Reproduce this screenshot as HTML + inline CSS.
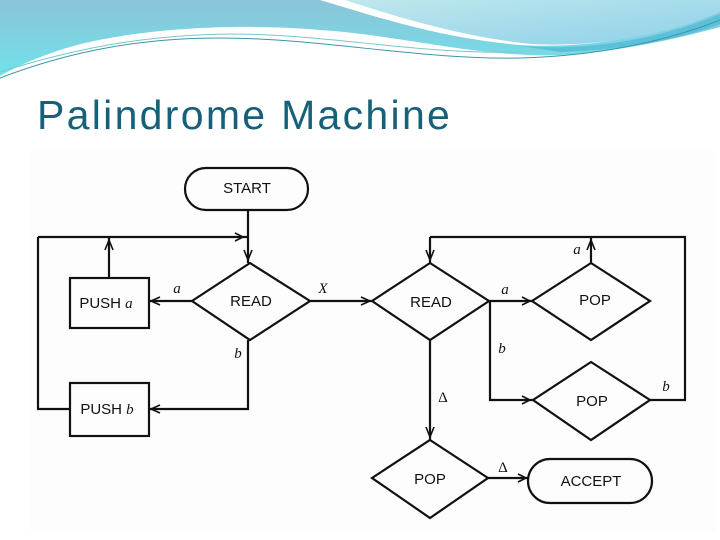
<!DOCTYPE html>
<html><head><meta charset="utf-8"><style>
html,body{margin:0;padding:0;background:#fff;}
body{width:720px;height:540px;overflow:hidden;position:relative;font-family:"Liberation Sans",sans-serif;}
.title{position:absolute;left:37px;top:92px;font-size:41px;color:#17607a;letter-spacing:2.3px;}
</style></head><body>
<svg width="720" height="540" style="position:absolute;left:0;top:0">
<defs>
<linearGradient id="g1" x1="0" y1="0" x2="0" y2="1"><stop offset="0" stop-color="#8cc4d8"/><stop offset="1" stop-color="#6fe2ea"/></linearGradient>
<linearGradient id="g2" x1="0" y1="0" x2="1" y2="1"><stop offset="0" stop-color="#bfe8ec"/><stop offset="1" stop-color="#8fd0ea"/></linearGradient>
</defs>
<path d="M0 0 H720 V27 C680 38 620 52 560 55 C480 58 400 35 320 30 C230 22 120 30 60 50 C30 60 10 70 0 76 Z" fill="url(#g1)"/>
<path d="M320 0 C380 18 440 38 520 45 C600 50 680 30 720 8 V0 Z" fill="#fff"/>
<path d="M345 0 C400 18 460 36 530 44 C610 48 680 30 720 12 V0 Z" fill="url(#g2)"/>
<path d="M520 46 C600 52 670 35 720 14 V24 C680 40 620 50 560 52 Z" fill="#5cc0d8"/>
<path d="M0 78 C60 55 130 38 220 38 C320 38 420 60 520 58 C600 56 670 40 720 20" fill="none" stroke="#3a98a8" stroke-width="1"/>
<path d="M0 72 C70 50 140 35 230 34 C330 34 420 55 520 52" fill="none" stroke="#7cc6cc" stroke-width="1"/>
<rect x="30" y="150" width="686" height="382" fill="#fdfdfd"/>
<g fill="none" stroke="#111" stroke-width="2.2">
<rect x="185" y="168" width="123" height="42" rx="21"/>
<rect x="528" y="459" width="124" height="44" rx="22"/>
<rect x="70" y="278" width="79" height="50"/>
<rect x="70" y="383" width="79" height="53"/>
<polygon points="250,263 310,301 250,340 192,301"/>
<polygon points="430,263 489,301 430,340 372,301"/>
<polygon points="591,263 650,301 591,340 532,301"/>
<polygon points="591,362 650,400 591,440 533,400"/>
<polygon points="430,440 488,478 430,518 372,478"/>
<path d="M248 210 V263"/>
<path d="M38 237 H248"/>
<path d="M38 237 V409 H70"/>
<path d="M109 278 V237"/>
<path d="M192 301 H149"/>
<path d="M248 340 V409 H149"/>
<path d="M310 301 H372"/>
<path d="M430 237 V263 M430 237 H685 V400 H650"/>
<path d="M591 263 V237"/>
<path d="M489 301 H532"/>
<path d="M490 301 V400 H533"/>
<path d="M430 340 V440"/>
<path d="M488 478 H528"/>
</g>
<g fill="none" stroke="#111" stroke-width="1.6">
<path d="M235 233 L243 237 L235 241"/>
<path d="M244 250 L248 260 L252 250"/>
<path d="M105 250 L109 240 L113 250"/>
<path d="M160 297 L151 301 L160 305"/>
<path d="M160 405 L151 409 L160 413"/>
<path d="M361 297 L370 301 L361 305"/>
<path d="M426 250 L430 260 L434 250"/>
<path d="M587 250 L591 240 L595 250"/>
<path d="M522 297 L530 301 L522 305"/>
<path d="M522 396 L530 400 L522 404"/>
<path d="M426 427 L430 437 L434 427"/>
<path d="M518 474 L526 478 L518 482"/>
</g>
<g font-family="Liberation Sans,sans-serif" font-size="15" fill="#111" text-anchor="middle">
<text x="247" y="193">START</text>
<text x="251" y="306">READ</text>
<text x="431" y="307">READ</text>
<text x="595" y="305">POP</text>
<text x="592" y="406">POP</text>
<text x="430" y="484">POP</text>
<text x="591" y="486">ACCEPT</text>
<text x="106" y="308">PUSH <tspan font-style="italic" font-family="Liberation Serif,serif">a</tspan></text>
<text x="107" y="414">PUSH <tspan font-style="italic" font-family="Liberation Serif,serif">b</tspan></text>
</g>
<g font-family="Liberation Serif,serif" font-size="15" font-style="italic" fill="#111" text-anchor="middle">
<text x="177" y="293">a</text>
<text x="323" y="293">X</text>
<text x="238" y="358">b</text>
<text x="505" y="294">a</text>
<text x="577" y="254">a</text>
<text x="502" y="353">b</text>
<text x="666" y="391">b</text>
<text x="443" y="402" font-style="normal">Δ</text>
<text x="503" y="472" font-style="normal">Δ</text>
</g>
</svg>
<div class="title">Palindrome Machine</div>
</body></html>
